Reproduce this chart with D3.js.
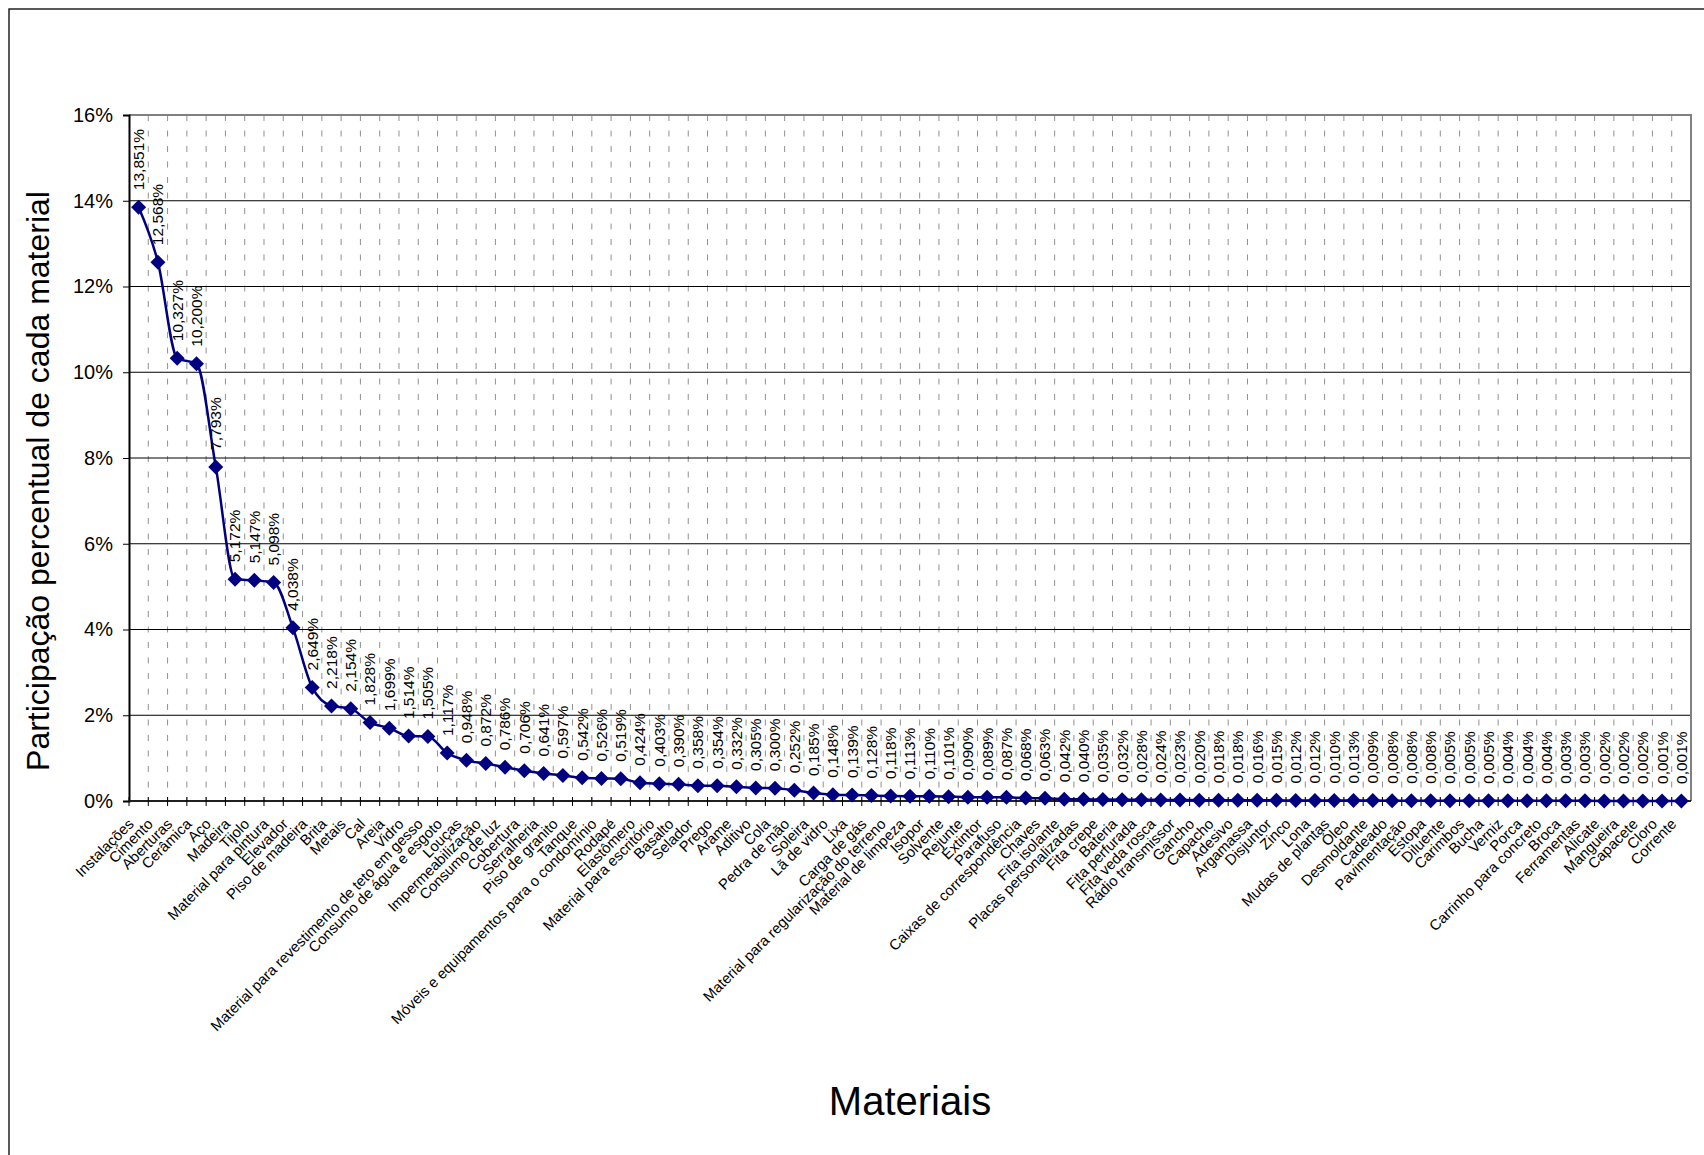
<!DOCTYPE html>
<html lang="pt-BR">
<head>
<meta charset="utf-8">
<title>Participação percentual de cada material</title>
<script src="https://cdn.jsdelivr.net/npm/d3@7/dist/d3.min.js"></script>
<style>
  html, body { margin: 0; padding: 0; background: #ffffff; }
  svg { display: block; font-family: Arial, "Liberation Sans", Helvetica, sans-serif; }
</style>
</head>
<body>
<svg id="chart" width="1704" height="1155"></svg>
<script>
// Materials, in descending order of share
const categories = [
  "Instalações", "Cimento", "Aberturas", "Cerâmica", "Aço", "Madeira", "Tijolo",
  "Material para pintura", "Elevador", "Piso de madeira", "Brita", "Metais", "Cal",
  "Areia", "Vidro", "Material para revestimento de teto em gesso",
  "Consumo de água e esgoto", "Louças", "Impermeabilização", "Consumo de luz",
  "Cobertura", "Serralheria", "Piso de granito", "Tanque",
  "Móveis e equipamentos para o condomínio", "Rodapé", "Elastômero",
  "Material para escritório", "Basalto", "Selador", "Prego", "Arame", "Aditivo",
  "Cola", "Pedra de mão", "Soleira", "Lã de vidro", "Lixa", "Carga de gás",
  "Material para regularização do terreno", "Material de limpeza", "Isopor",
  "Solvente", "Rejunte", "Extintor", "Parafuso", "Caixas de correspondência",
  "Chaves", "Fita isolante", "Placas personalizadas", "Fita crepe", "Bateria",
  "Fita perfurada", "Fita veda rosca", "Rádio transmissor", "Gancho", "Capacho",
  "Adesivo", "Argamassa", "Disjuntor", "Zinco", "Lona", "Mudas de plantas", "Óleo",
  "Desmoldante", "Cadeado", "Pavimentação", "Estopa", "Diluente", "Carimbos",
  "Bucha", "Verniz", "Porca", "Carrinho para concreto", "Broca", "Ferramentas",
  "Alicate", "Mangueira", "Capacete", "Cloro", "Corrente"
];

// Share of each material (%)
const shares = [
  13.851, 12.568, 10.327, 10.200, 7.793, 5.172, 5.147,
  5.098, 4.038, 2.649, 2.218, 2.154, 1.828,
  1.699, 1.514, 1.505,
  1.117, 0.948, 0.872, 0.786,
  0.706, 0.641, 0.597, 0.542,
  0.526, 0.519, 0.424,
  0.403, 0.390, 0.358, 0.354, 0.332, 0.305,
  0.300, 0.252, 0.185, 0.148, 0.139, 0.128,
  0.118, 0.113, 0.110,
  0.101, 0.090, 0.089, 0.087, 0.068,
  0.063, 0.042, 0.040, 0.035, 0.032,
  0.028, 0.024, 0.023, 0.020, 0.018,
  0.018, 0.016, 0.015, 0.012, 0.012, 0.010, 0.013,
  0.009, 0.008, 0.008, 0.008, 0.005, 0.005,
  0.005, 0.004, 0.004, 0.004, 0.003, 0.003,
  0.002, 0.002, 0.002, 0.001, 0.001
];

// Value axis ticks (%)
const yTicks = [0, 2, 4, 6, 8, 10, 12, 14, 16];

const yTitle = "Participação percentual de cada material";
const xTitle = "Materiais";

// ---- layout ----
const plot = { left: 129, right: 1691, top: 115, bottom: 801 };
const svg = d3.select("#chart");

const ptBR = d3.formatLocale({ decimal: ",", thousands: ".", grouping: [3], currency: ["R$", ""] });
const fmtValue = ptBR.format(".3f");
const fmtTick = ptBR.format("d");

const x = d3.scaleBand().domain(categories).range([plot.left, plot.right]).padding(0);
const y = d3.scaleLinear().domain([0, 16]).range([plot.bottom, plot.top]);
const cx = d => x(d) + x.bandwidth() / 2;

// outer chart frame (runs past the page edges on the right and bottom)
svg.append("rect")
  .attr("x", 9).attr("y", 9)
  .attr("width", 1800).attr("height", 1300)
  .attr("fill", "#ffffff")
  .attr("stroke", "#000000")
  .attr("stroke-width", 1.3);

// vertical dashed gridlines at category boundaries
const boundaries = categories.slice(1);
svg.append("g")
  .selectAll("line")
  .data(boundaries)
  .join("line")
  .attr("x1", d => x(d)).attr("x2", d => x(d))
  .attr("y1", plot.top).attr("y2", plot.bottom)
  .attr("stroke", "#909090")
  .attr("stroke-width", 1)
  .attr("stroke-dasharray", "6,9.5");

// horizontal gridlines
svg.append("g")
  .selectAll("line")
  .data(yTicks.filter(t => t > 0 && t < 16))
  .join("line")
  .attr("x1", plot.left).attr("x2", plot.right)
  .attr("y1", d => y(d)).attr("y2", d => y(d))
  .attr("stroke", "#000000")
  .attr("stroke-width", 1);

// plot area border (top and right)
svg.append("path")
  .attr("d", `M${plot.left},${plot.top}H${plot.right}V${plot.bottom}`)
  .attr("fill", "none")
  .attr("stroke", "#808080")
  .attr("stroke-width", 2);

// y axis
const yAxis = svg.append("g")
  .attr("transform", `translate(${plot.left},0)`)
  .call(d3.axisLeft(y).tickValues(yTicks).tickSize(6).tickPadding(10).tickFormat(d => fmtTick(d) + "%"));
yAxis.select(".domain").attr("stroke", "#000000").attr("stroke-width", 2);
yAxis.selectAll(".tick line").attr("stroke", "#000000").attr("stroke-width", 1);
yAxis.selectAll(".tick text")
  .attr("font-size", 20)
  .attr("font-family", "Arial, 'Liberation Sans', sans-serif")
  .attr("fill", "#000000");

// x axis line with crossing ticks at category boundaries
svg.append("line")
  .attr("x1", plot.left).attr("x2", plot.right)
  .attr("y1", plot.bottom).attr("y2", plot.bottom)
  .attr("stroke", "#202020")
  .attr("stroke-width", 2);
svg.append("g")
  .selectAll("line")
  .data(categories)
  .join("line")
  .attr("x1", d => x(d)).attr("x2", d => x(d))
  .attr("y1", plot.bottom - 4).attr("y2", plot.bottom + 5)
  .attr("stroke", "#000000")
  .attr("stroke-width", 1);

// category labels, slanted
svg.append("g")
  .selectAll("text")
  .data(categories)
  .join("text")
  .attr("transform", d => `translate(${cx(d) - 4},${plot.bottom + 24}) rotate(-45)`)
  .attr("text-anchor", "end")
  .attr("font-size", 14.8)
  .attr("fill", "#000000")
  .text(d => d);

// series line (smoothed)
const series = categories.map((c, i) => ({ c, v: shares[i] }));
svg.append("path")
  .datum(series)
  .attr("d", d3.line().x(d => cx(d.c)).y(d => y(d.v)).curve(d3.curveMonotoneX))
  .attr("fill", "none")
  .attr("stroke", "#000080")
  .attr("stroke-width", 2.5)
  .attr("stroke-linejoin", "round");

// diamond markers
const r = 7.5;
svg.append("g")
  .selectAll("path")
  .data(series)
  .join("path")
  .attr("transform", d => `translate(${cx(d.c)},${y(d.v)})`)
  .attr("d", `M0,${-r}L${r},0L0,${r}L${-r},0Z`)
  .attr("fill", "#000080");

// value labels, vertical above each point
svg.append("g")
  .selectAll("text")
  .data(series)
  .join("text")
  .attr("transform", d => `translate(${cx(d.c)},${y(d.v) - 17}) rotate(-90)`)
  .attr("dy", "0.35em")
  .attr("text-anchor", "start")
  .attr("font-size", 15.5)
  .attr("fill", "#000000")
  .text(d => fmtValue(d.v) + "%");

// axis titles
svg.append("text")
  .attr("transform", `translate(38,481) rotate(-90)`)
  .attr("text-anchor", "middle")
  .attr("dy", "0.35em")
  .attr("font-size", 32)
  .attr("fill", "#000000")
  .text(yTitle);

svg.append("text")
  .attr("x", (plot.left + plot.right) / 2)
  .attr("y", 1115)
  .attr("text-anchor", "middle")
  .attr("font-size", 40)
  .attr("fill", "#000000")
  .text(xTitle);
</script>
</body>
</html>
